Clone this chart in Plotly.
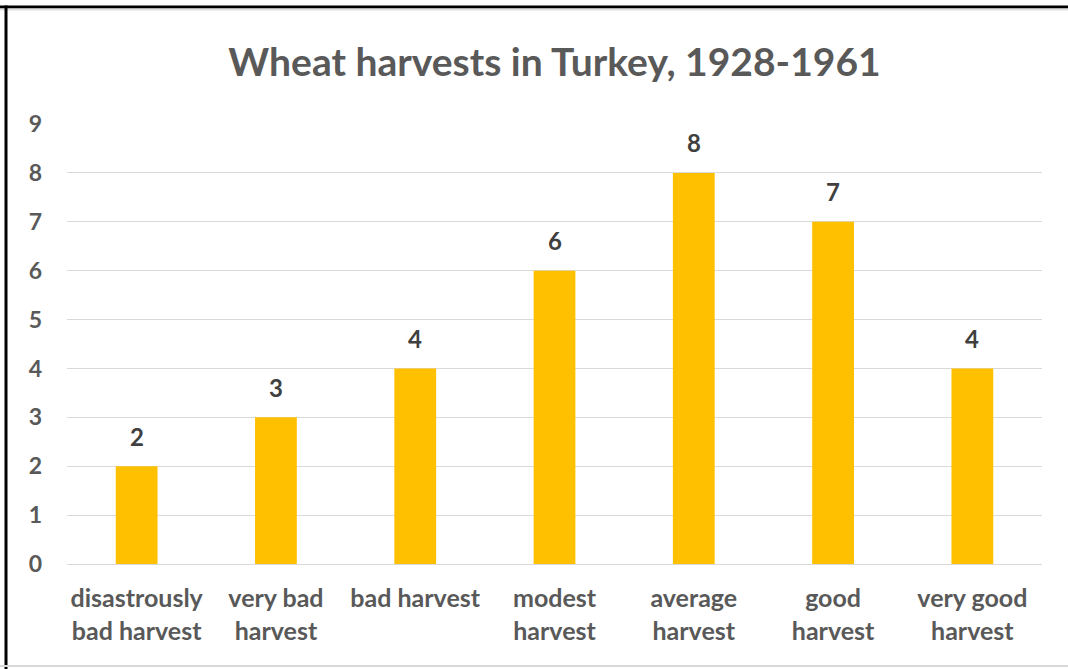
import plotly.graph_objects as go

categories = ["disastrously<br>bad harvest", "very bad<br>harvest", "bad harvest",
              "modest<br>harvest", "average<br>harvest", "good<br>harvest",
              "very good<br>harvest"]
counts = [2, 3, 4, 6, 8, 7, 4]
y_ticks = [0, 1, 2, 3, 4, 5, 6, 7, 8, 9]

W, H = 1068, 669
L, R, T, B = 67, 26, 124, 105
pw, ph = W - L - R, H - T - B

def px(x):
    return (x - L) / pw

def py(y):
    return (H - B - y) / ph

fig = go.Figure(go.Bar(
    x=categories, y=counts, marker_color="#FFC000", marker_line_width=0,
    cliponaxis=False,
))

for c, v in zip(categories, counts):
    fig.add_annotation(x=c, y=v, text=f"<b>{v}</b>", showarrow=False,
                       yanchor="middle", yshift=30,
                       font=dict(family="Lato", size=24, color="#404040"))

fig.update_layout(
    width=W, height=H,
    margin=dict(l=L, r=R, t=T, b=B, pad=0),
    paper_bgcolor="white", plot_bgcolor="white",
    bargap=0.7, showlegend=False,
    title=dict(text="<b>Wheat harvests in Turkey, 1928-1961</b>", x=0.5, xref="paper",
               y=1 - 62 / H, yref="container", yanchor="middle", xanchor="center",
               font=dict(family="Lato", size=39, color="#595959")),
    font=dict(family="Lato", color="#595959"),
    yaxis=dict(range=[0, 9], tickvals=y_ticks, showgrid=True, gridcolor="#D9D9D9",
               gridwidth=1, zeroline=False, showline=False, ticks="",
               ticklabelstandoff=24,
               tickfont=dict(family="Lato", size=23, color="#595959", weight="bold")),
    xaxis=dict(showgrid=False, showline=True, linecolor="#D9D9D9", linewidth=1,
               ticks="", ticklabelstandoff=12,
               tickfont=dict(family="Lato", size=25, color="#595959", weight="bold")),
    shapes=[
        dict(type="line", xref="paper", yref="paper", x0=px(0), x1=px(W), y0=py(7), y1=py(7),
             line=dict(color="black", width=3)),
        dict(type="line", xref="paper", yref="paper", x0=px(0), x1=px(W), y0=py(9.5), y1=py(9.5),
             line=dict(color="#E0E0E0", width=2)),
        dict(type="line", xref="paper", yref="paper", x0=px(6), x1=px(6), y0=py(5.5), y1=py(H),
             line=dict(color="black", width=3)),
        dict(type="line", xref="paper", yref="paper", x0=px(0), x1=px(W), y0=py(666), y1=py(666),
             line=dict(color="#D9D9D9", width=2)),
    ],
)

fig.write_html(
    "out.html", config={"displayModeBar": False},
    post_script=("document.body.style.margin='0';"
                 "document.body.style.overflow='hidden';"
                 "document.documentElement.style.overflow='hidden';"),
)
